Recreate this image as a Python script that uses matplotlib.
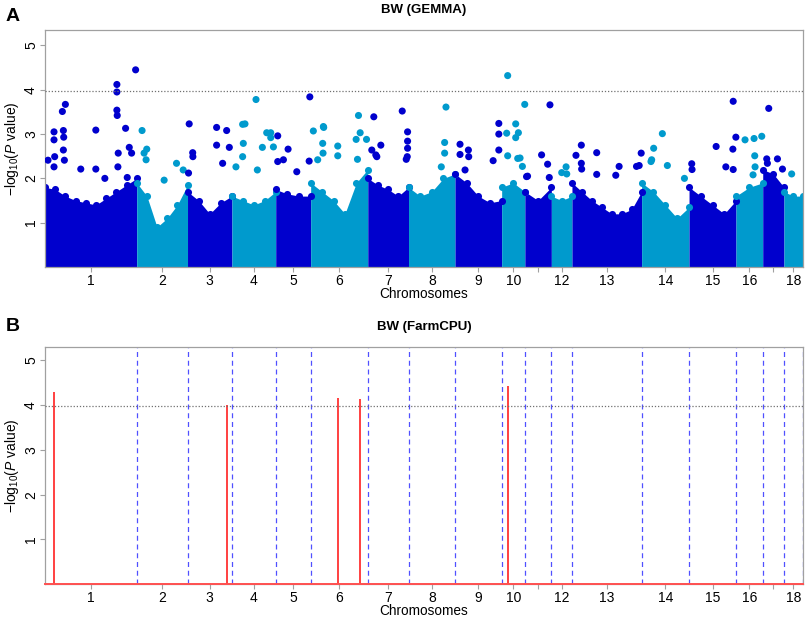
import numpy as np
import matplotlib.pyplot as plt

plt.rcParams['font.family'] = ['Liberation Sans', 'DejaVu Sans']
plt.rcParams['mathtext.fontset'] = 'custom'
plt.rcParams['mathtext.rm'] = 'Liberation Sans'
plt.rcParams['mathtext.it'] = 'Liberation Sans:italic'

# chromosome lengths (Mb), pig autosomes 1-18
chrom_len = [274.3, 151.9, 132.8, 130.9, 104.5, 170.8, 121.8, 139.0, 139.5,
             69.4, 79.2, 61.6, 208.3, 141.8, 140.4, 79.9, 63.5, 56.0]
chrom_labels = ['1', '2', '3', '4', '5', '6', '7', '8', '9', '10', '', '12',
                '13', '14', '15', '16', '', '18']
threshold = 3.97

# top of the packed band of SNPs in each chromosome, read left to right
envelope = {
    1: [1.8, 1.75, 1.6, 1.5, 1.45, 1.4, 1.55, 1.7, 1.85, 2.0],
    2: [1.9, 1.6, 0.9, 1.1, 1.4, 1.85],
    3: [1.7, 1.5, 1.2, 1.45, 1.6],
    4: [1.6, 1.5, 1.4, 1.5, 1.7],
    5: [1.75, 1.65, 1.6, 1.6],
    6: [1.9, 1.7, 1.5, 1.2, 1.9, 2.2],
    7: [2.0, 1.85, 1.75, 1.6, 1.8],
    8: [1.8, 1.6, 1.7, 2.0, 2.1],
    9: [2.1, 1.9, 1.6, 1.45, 1.5],
    10: [1.8, 1.9, 1.7],
    11: [1.7, 1.5, 1.8],
    12: [1.6, 1.5, 1.6],
    13: [1.9, 1.7, 1.5, 1.35, 1.2, 1.2, 1.3, 1.7],
    14: [1.9, 1.7, 1.4, 1.1, 1.35],
    15: [1.8, 1.6, 1.4, 1.2, 1.5],
    16: [1.6, 1.8, 1.9],
    17: [2.2, 2.1, 1.8],
    18: [1.7, 1.6, 1.6],
}

# GEMMA SNPs standing above the band: chromosome, position (Mb), -log10(P)
gemma_chr = ([1] * 26 + [2] * 7 + [3] * 9 + [4] * 12 + [5] * 7 + [6] * 13 +
             [7] * 11 + [8] * 4 + [9] * 9 + [10] * 10 + [11] * 6 + [12] * 3 +
             [13] * 11 + [14] * 6 + [15] * 8 + [16] * 6 + [17] * 5 + [18] * 1)
gemma_pos = [271, 215, 215, 215, 216, 61, 52, 27, 27, 55, 56, 152, 241, 29, 9,
             55, 58, 27, 107, 152, 219, 218, 252, 259, 179, 246,
             16, 30, 22, 28, 119, 82, 139,
             5, 87, 117, 87, 125, 15.5, 16, 105, 3,
             32, 39, 72, 104, 116, 116, 91, 124, 34, 32, 12, 76,
             6, 37, 23, 6, 63, 102, 100,
             8, 38, 39, 36, 37, 81, 81, 21, 143, 148, 136, 140, 167,
             18, 12, 27, 24, 39, 103, 119, 119, 119, 118, 115,
             112, 108, 108, 98,
             15, 15, 40, 41, 30, 131, 131, 131, 114,
             18, 15, 42, 50, 42, 18, 55, 69, 62, 48,
             75, 50, 73, 5, 8, 68,
             44, 46, 31,
             28, 12, 28, 29, 74, 74, 141, 131, 207, 193, 201,
             62, 36, 77, 128, 30, 28,
             132, 81, 140, 131, 132, 110, 8, 9,
             27, 54, 77, 56, 57, 51,
             18, 44, 12, 14, 59,
             23]
gemma_p = [4.45, 4.12, 3.95, 3.54, 3.42, 3.67, 3.51, 3.05, 2.87, 3.08, 2.93,
           3.09, 3.13, 2.49, 2.41, 2.64, 2.41, 2.26, 2.21, 2.21, 2.57, 2.26,
           2.70, 2.57, 2.0, 2.02,
           3.08, 2.66, 2.57, 2.42, 2.34, 1.96, 2.19,
           3.23, 3.15, 3.08, 2.75, 2.70, 2.58, 2.49, 2.34, 2.12,
           3.22, 3.23, 3.78, 3.03, 3.03, 2.92, 2.70, 2.71, 2.79, 2.49, 2.26, 2.19,
           2.96, 2.66, 2.42, 2.38, 2.15, 3.84, 2.39,
           3.07, 3.17, 3.15, 2.79, 2.57, 2.73, 2.51, 2.42, 3.42, 3.03, 2.88,
           2.43, 2.88,
           3.39, 2.64, 2.49, 2.53, 2.75, 3.52, 3.05, 2.84, 2.68, 2.49, 2.43,
           3.61, 2.81, 2.57, 2.26,
           2.77, 2.54, 2.64, 2.49, 2.19, 3.24, 3.0, 2.64, 2.40,
           4.32, 3.02, 3.23, 3.03, 2.92, 2.51, 2.46, 3.67, 2.27, 2.45,
           3.66, 2.53, 2.02, 2.04, 2.05, 2.32,
           2.26, 2.1, 2.13,
           2.75, 2.52, 2.34, 2.21, 2.58, 2.09, 2.27, 2.07, 2.57, 2.27, 2.29,
           3.01, 2.68, 2.29, 2.0, 2.42, 2.38,
           3.74, 2.72, 2.93, 2.66, 2.2, 2.26, 2.33, 2.2,
           2.87, 2.9, 2.95, 2.51, 2.26, 2.08,
           3.58, 2.44, 2.44, 2.34, 2.21,
           2.1]

# FarmCPU significant SNPs
farm_chr = [1, 3, 6, 6, 10]
farm_pos = [27, 117, 83, 149, 18]
farm_p = [4.29, 3.99, 4.15, 4.13, 4.42]

dark = '#0000CD'
light = '#009ACD'

starts = np.concatenate([[0], np.cumsum(chrom_len)[:-1]])
ends = np.cumsum(chrom_len)
centers = starts + np.array(chrom_len) / 2
total = ends[-1]


def colour(c):
    return dark if c % 2 == 1 else light


def style_axes(ax, ymax):
    ax.set_xlim(0, total)
    ax.set_ylim(0, ymax)
    for s in ax.spines.values():
        s.set_color('#a0a0a0')
        s.set_linewidth(0.9)
    ax.set_yticks([1, 2, 3, 4, 5])
    ax.set_yticklabels(['1', '2', '3', '4', '5'], rotation=90, va='center')
    ax.set_xticks(centers)
    ax.set_xticklabels(chrom_labels)
    ax.tick_params(length=3.5, width=0.8, color='#a0a0a0', labelsize=10, pad=1.5)
    ax.set_xlabel('Chromosomes', fontsize=9.8, labelpad=-1)
    ax.set_ylabel(r'$-$log$_{10}$($\mathit{P}$ value)', fontsize=10, labelpad=2)
    ax.axhline(threshold, color='#707070', ls=(0, (1, 1.5)), lw=0.9, zorder=5)


fig = plt.figure(figsize=(8.09, 6.18), dpi=100)
ax1 = fig.add_axes([0.0556, 0.568, 0.9366, 0.3835])
ax2 = fig.add_axes([0.0556, 0.0545, 0.9366, 0.3845])

# panel A: GEMMA
for c in range(1, 19):
    env = envelope[c]
    xs = np.linspace(starts[c - 1], ends[c - 1], len(env))
    ax1.fill_between(xs, 0, env, color=colour(c), lw=0, zorder=1)
    ax1.scatter(xs, env, s=26, color=colour(c), lw=0, zorder=2)

gx = [starts[c - 1] + p for c, p in zip(gemma_chr, gemma_pos)]
gcol = [colour(c) for c in gemma_chr]
ax1.scatter(gx, gemma_p, s=26, c=gcol, lw=0, zorder=3)
style_axes(ax1, 5.35)
ax1.set_title('BW (GEMMA)', fontsize=9.5, fontweight='bold', pad=12)

# panel B: FarmCPU
for e in ends:
    ax2.axvline(e, color='#5050ff', ls=(0, (4, 3)), lw=0.9, zorder=1)
fx = [starts[c - 1] + p for c, p in zip(farm_chr, farm_pos)]
ax2.vlines(fx, 0, farm_p, color='#ff4040', lw=1.4, zorder=3)
ax2.plot([0, total], [0, 0], color='#ff5050', lw=1.4, clip_on=False, zorder=4)
style_axes(ax2, 5.30)
ax2.set_title('BW (FarmCPU)', fontsize=9.5, fontweight='bold', pad=12)

fig.text(0.016, 0.974, 'A', fontsize=14, fontweight='bold', va='center', ha='center')
fig.text(0.016, 0.472, 'B', fontsize=14, fontweight='bold', va='center', ha='center')

fig.savefig('out.png', dpi=100)
